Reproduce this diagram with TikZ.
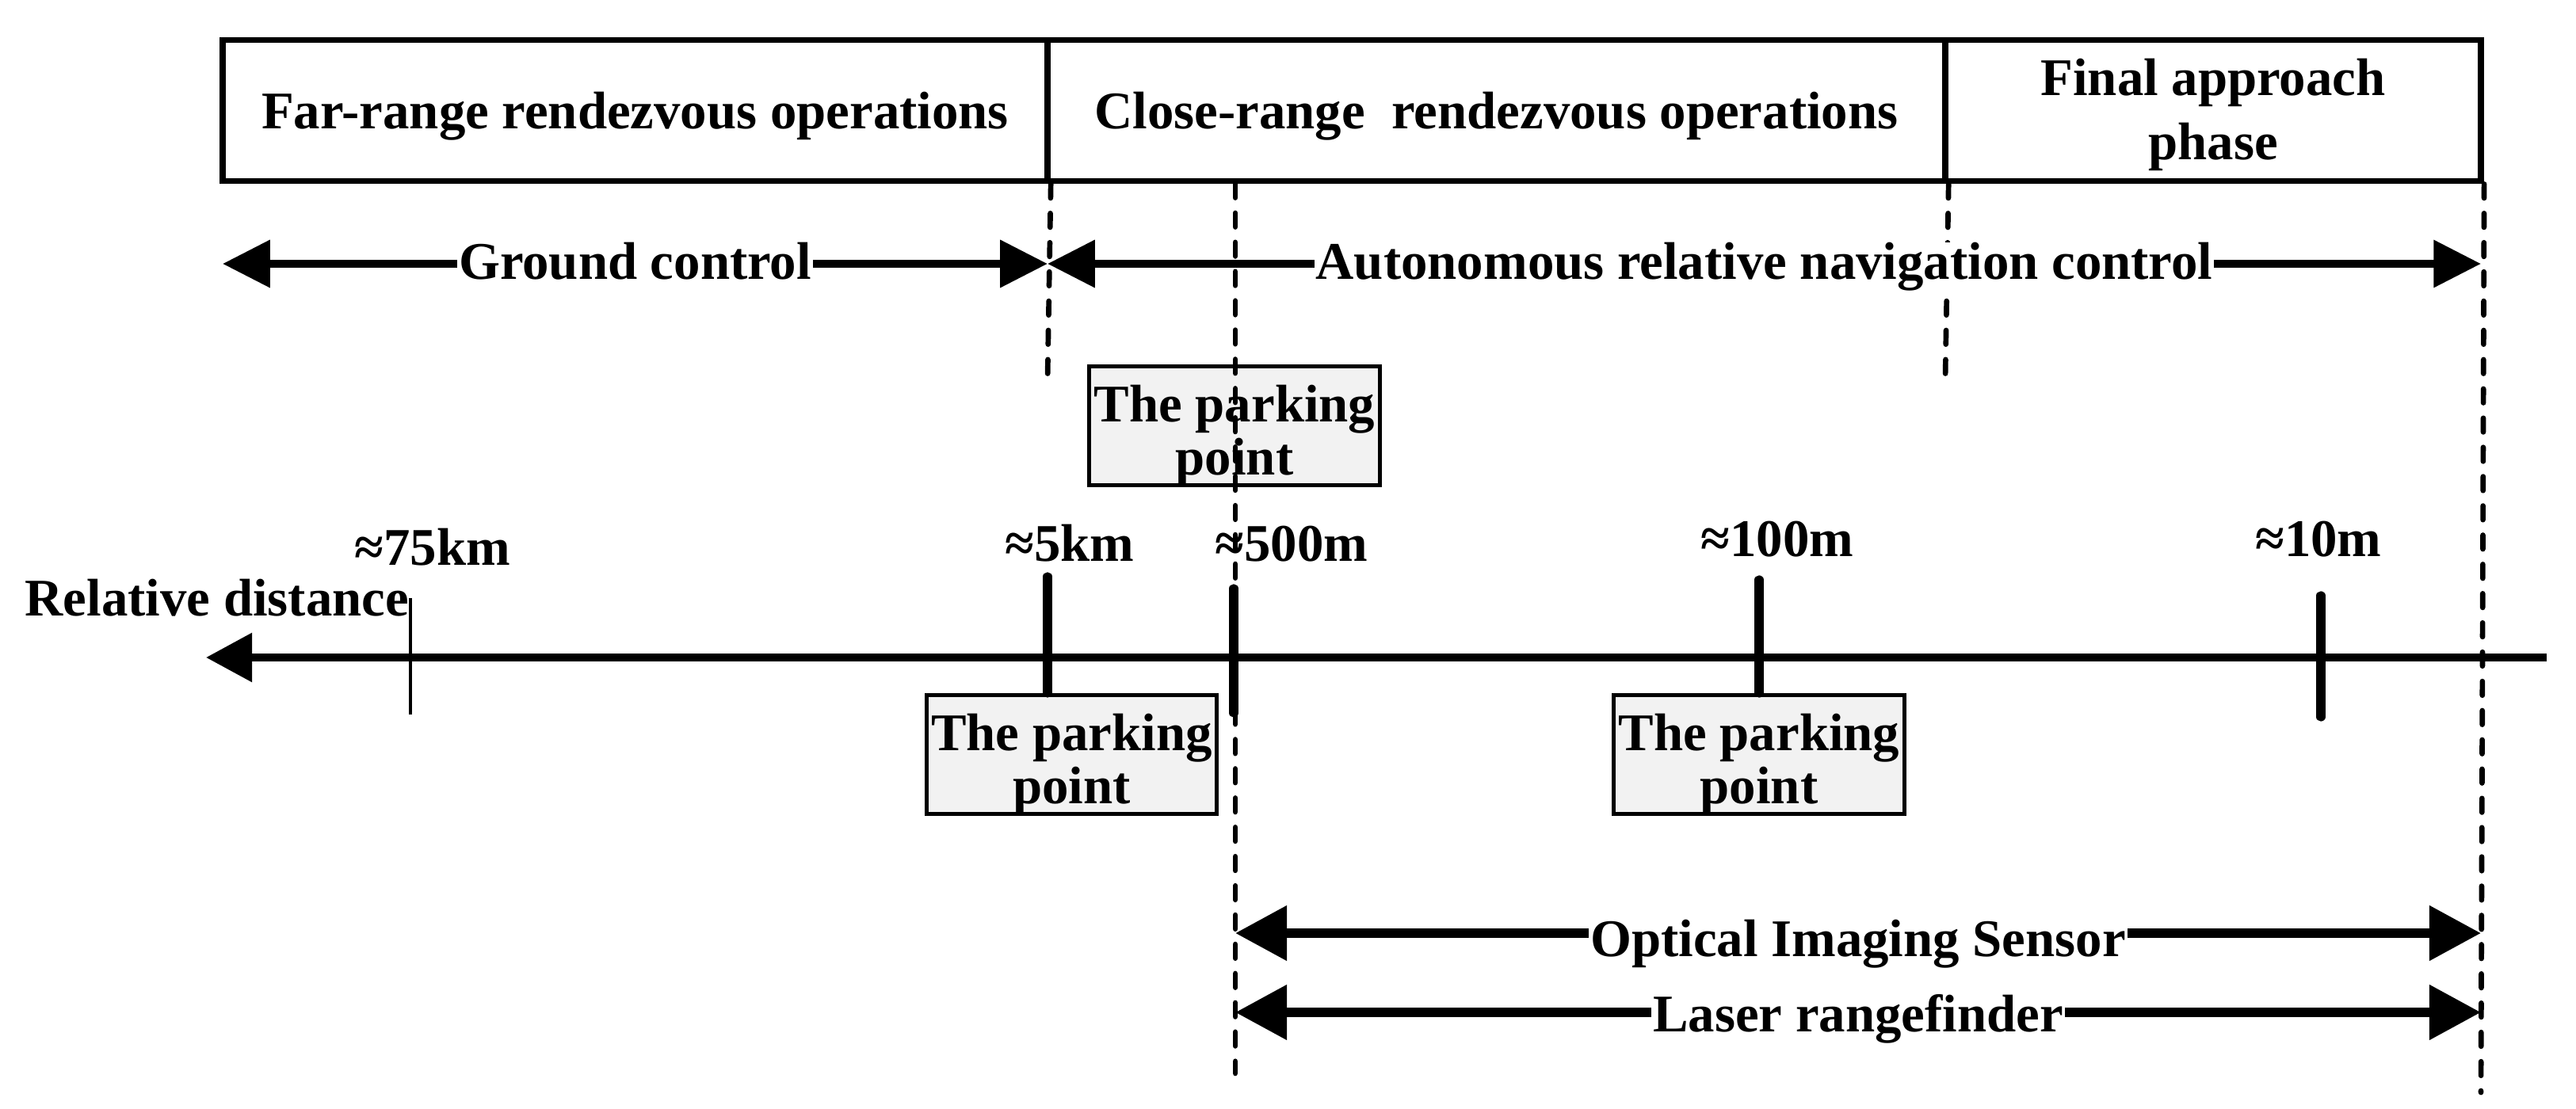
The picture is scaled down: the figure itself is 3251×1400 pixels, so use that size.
\documentclass[tikz,border=0pt]{standalone}
\usepackage{fontspec}
\setmainfont{Liberation Serif}
\usetikzlibrary{arrows.meta}
\definecolor{parkfill}{HTML}{F2F2F2}
\newcommand\twolines[2]{\vtop{\halign{\hfil##\hfil\cr #1\cr #2\cr}}}
\begin{document}
\begin{tikzpicture}[x=0.01cm,y=-0.01cm,
  every node/.style={font=\fontsize{19}{19}\selectfont\bfseries},
  phase/.style={draw, line width=2.2pt, minimum height=1.78cm, inner sep=0pt},
  onel/.style={text height=0.45cm, text depth=0cm},
  park/.style={draw, line width=1.4pt, fill=parkfill, minimum width=3.66cm,
    minimum height=1.5cm, inner sep=0pt, text height=0cm, text depth=0.1cm},
  ctrl/.style={line width=2.85pt,
    {Triangle[length=17pt,width=16.5pt]}-{Triangle[length=17pt,width=16.5pt]}},
  sens/.style={line width=3.4pt,
    {Triangle[length=18.5pt,width=19pt]}-{Triangle[length=18.5pt,width=19pt]}},
  axisline/.style={line width=2.85pt, -{Triangle[length=16.5pt,width=17pt]}},
  guide/.style={line width=1.9pt, dash pattern=on 5pt off 5.5pt, line cap=round},
  tickmark/.style={line width=3.2pt, line cap=round},
  thintick/.style={line width=1.3pt},
  arrlab/.style={fill=white, inner xsep=0.5pt, inner ysep=0pt, anchor=base},
  lab/.style={inner sep=0pt, anchor=base},
]
\fill[white] (0,0) rectangle (3251,1400);
\useasboundingbox (0,0) rectangle (3251,1400);

% phase boxes
\node[phase, onel, minimum width=10.41cm] (far) at (801.5,139.5) {Far-range rendezvous operations};
\node[phase, onel, minimum width=11.33cm] (close) at (1888.5,139.5) {Close-range\ \ rendezvous operations};
\node[phase, minimum width=6.76cm, text height=0cm, text depth=0.37cm,
  font=\fontsize{19}{23}\selectfont\bfseries] (final) at (2793,139.5) {\twolines{Final approach}{phase}};

% parking point boxes
\node[park] (pb0) at (1558,537.5) {\twolines{The parking}{point}};
\node[park] (pb1) at (1352.5,952.5) {\twolines{The parking}{point}};
\node[park] (pb2) at (2220,952.5) {\twolines{The parking}{point}};

% coordinates
\coordinate (g1b) at (1322,481);
\coordinate (d500t) at (1559,232);
\coordinate (d500b) at (1559,1355);
\coordinate (g2b) at (2455,478);
\coordinate (rb) at (3131,1379);

% guide (dashed) lines
\draw[guide] (far.south east) -- (g1b);
\draw[guide] (d500t) -- (d500b);
\draw[guide] (close.south east) -- (g2b);
\draw[guide] (final.south east) -- (rb);

% axis
\coordinate (axR) at (3214,830);
\coordinate (axL) at (260,830);
\draw[axisline] (axR) -- (axL);

% ticks
\coordinate (t75a) at (518,755);  \coordinate (t75b) at (518,902);
\coordinate (t5a) at (1322,728);
\coordinate (t500a) at (1557,743); \coordinate (t500b) at (1557,900);
\coordinate (t100a) at (2220,732);
\coordinate (t10a) at (2929,752);  \coordinate (t10b) at (2929,905);
\draw[thintick] (t75a) -- (t75b);
\draw[tickmark] (t5a) -- (t5a |- pb1.north);
\draw[tickmark] (t500a) -- (t500b);
\draw[tickmark] (t100a) -- (pb2.north);
\draw[tickmark] (t10a) -- (t10b);

% tick labels
\node[lab] (l75) at (546,713) {≈75km};
\node[lab] (l5) at (1350,708) {≈5km};
\node[lab] (l500) at (1630,708) {≈500m};
\node[lab] (l100) at (2243,702) {≈100m};
\node[lab] (l10) at (2926,702) {≈10m};
\node[inner sep=0pt, anchor=base west] (rel) at (31,777) {Relative distance};

% control arrows
\coordinate (gcL) at (281,333);
\coordinate (gcR) at (1322,333);
\coordinate (arR) at (3131,333);
\draw[ctrl] (gcL) -- (gcR) node[midway, arrlab, yshift=-0.19cm] (gclab) {Ground control};
\draw[ctrl] (gcR) -- (arR) node[midway, arrlab, yshift=-0.19cm] (arlab) {Autonomous relative navigation control};

% sensor arrows
\coordinate (osL) at (1559,1178); \coordinate (osR) at (3131,1178);
\coordinate (lrL) at (1559,1278); \coordinate (lrR) at (3131,1278);
\draw[sens] (osL) -- (osR) node[midway, arrlab, yshift=-0.29cm] (oslab) {Optical Imaging Sensor};
\draw[sens] (lrL) -- (lrR) node[midway, arrlab, yshift=-0.24cm] (lrlab) {Laser rangefinder};
\end{tikzpicture}
\end{document}
